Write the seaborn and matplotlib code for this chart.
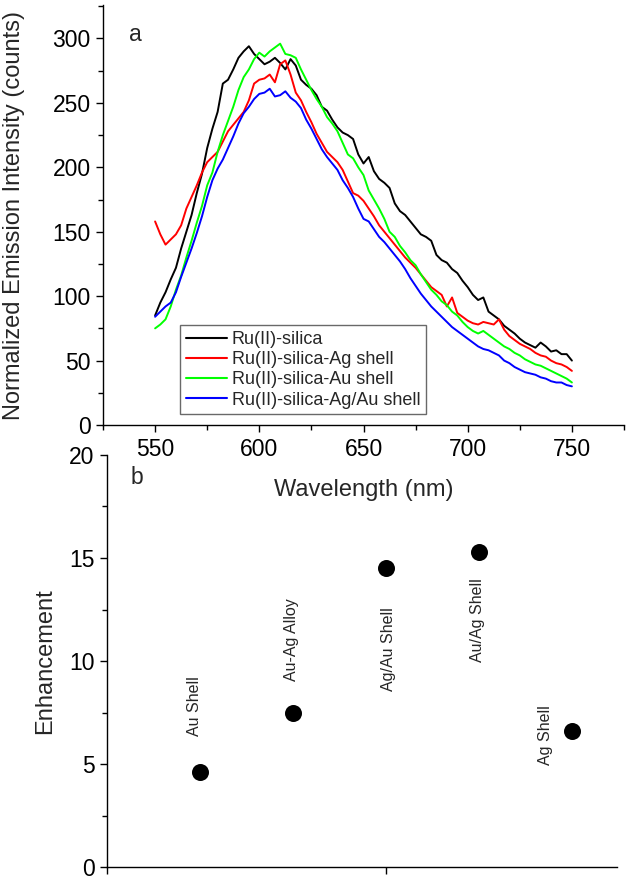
import numpy as np
import pandas as pd
import matplotlib
matplotlib.use("Agg")
import matplotlib.pyplot as plt
from matplotlib.ticker import MultipleLocator, NullFormatter
import seaborn as sns

# ── Data ─────────────────────────────────────────────────────────────────────
wavelength = np.arange(550, 750.1, 2.5)

silica = [85, 95, 103, 113, 122, 137, 150, 163, 180, 195, 215, 230, 243, 265, 268,
          276, 285, 290, 294, 288, 284, 280, 282, 285, 281, 276, 284, 279, 268, 264,
          261, 256, 247, 244, 237, 231, 227, 225, 222, 210, 203, 208, 197, 191, 188,
          184, 172, 166, 163, 158, 153, 148, 146, 143, 132, 128, 126, 121, 118, 112,
          107, 101, 97, 99, 88, 85, 82, 77, 74, 71, 67, 64, 62, 60, 64,
          61, 57, 58, 55, 55, 50]
ag_shell = [158, 148, 140, 144, 148, 155, 168, 177, 186, 196, 204, 208, 212, 220, 228,
            233, 238, 243, 252, 265, 268, 269, 272, 266, 280, 283, 272, 258, 252, 243,
            235, 226, 219, 212, 208, 204, 198, 189, 180, 178, 174, 168, 162, 155, 150,
            145, 140, 135, 130, 126, 122, 117, 112, 107, 104, 101, 92, 99, 87, 84,
            81, 79, 78, 80, 79, 78, 82, 74, 69, 66, 63, 61, 59, 56, 54,
            53, 50, 48, 47, 45, 42]
au_shell = [75, 78, 82, 92, 105, 116, 130, 143, 157, 170, 186, 196, 212, 225, 236,
            247, 260, 270, 276, 284, 289, 286, 290, 293, 296, 288, 287, 285, 276, 268,
            260, 253, 247, 239, 234, 228, 219, 210, 207, 200, 194, 182, 175, 168, 160,
            150, 146, 139, 134, 128, 124, 117, 111, 105, 101, 96, 93, 88, 85, 80,
            76, 73, 71, 73, 70, 67, 64, 61, 59, 56, 54, 51, 49, 47, 46,
            44, 42, 40, 38, 36, 33]
agau_shell = [84, 88, 92, 95, 103, 115, 126, 137, 149, 162, 177, 190, 199, 206, 215,
              224, 234, 242, 247, 253, 257, 258, 261, 255, 256, 259, 254, 251, 246, 237,
              230, 222, 214, 208, 203, 198, 190, 184, 177, 168, 160, 158, 152, 146, 142,
              137, 132, 127, 121, 114, 108, 102, 97, 92, 88, 84, 80, 76, 73, 70,
              67, 64, 61, 59, 58, 56, 54, 50, 48, 45, 43, 41, 40, 39, 37,
              36, 34, 33, 33, 31, 30]

series_names = ["Ru(II)-silica", "Ru(II)-silica-Ag shell",
                "Ru(II)-silica-Au shell", "Ru(II)-silica-Ag/Au shell"]
series_colors = ["#000000", "#ff0000", "#00ff00", "#0000ff"]

samples = ["Au Shell", "Au-Ag Alloy", "Ag/Au Shell", "Au/Ag Shell", "Ag Shell"]
enhancement = [4.6, 7.5, 14.5, 15.3, 6.6]

spectra = pd.concat([
    pd.DataFrame({"wavelength": wavelength, "intensity": vals, "sample": name})
    for name, vals in zip(series_names, [silica, ag_shell, au_shell, agau_shell])
])
points = pd.DataFrame({"pos": np.arange(1, len(samples) + 1),
                       "enhancement": enhancement, "sample": samples})

# ── Style ────────────────────────────────────────────────────────────────────
sns.set_style("ticks")
plt.rcParams["font.family"] = ["Liberation Sans", "DejaVu Sans"]
plt.rcParams.update({
    "axes.linewidth": 1.0,
    "xtick.major.width": 1.0, "ytick.major.width": 1.0,
    "xtick.minor.width": 1.0, "ytick.minor.width": 1.0,
    "xtick.major.size": 5, "ytick.major.size": 5,
    "xtick.minor.size": 3.5, "ytick.minor.size": 3.5,
    "xtick.direction": "out", "ytick.direction": "out",
    "xtick.color": "black", "ytick.color": "black",
    "axes.edgecolor": "black",
})

W, H = 629, 886
fig = plt.figure(figsize=(W / 100, H / 100), dpi=100)

# ── Panel a: emission spectra ────────────────────────────────────────────────
ax1 = fig.add_axes([103 / W, (H - 425) / H, 521 / W, 420 / H])
sns.lineplot(data=spectra, x="wavelength", y="intensity", hue="sample",
             hue_order=series_names, palette=dict(zip(series_names, series_colors)),
             estimator=None, sort=False, lw=1.4, ax=ax1)
ax1.set_xlim(525, 775)
ax1.set_ylim(0, 326)
ax1.xaxis.set_major_locator(MultipleLocator(50))
ax1.xaxis.set_minor_locator(MultipleLocator(25))
ax1.yaxis.set_major_locator(MultipleLocator(50))
ax1.yaxis.set_minor_locator(MultipleLocator(25))
ax1.set_xticks([550, 600, 650, 700, 750])
ax1.tick_params(labelsize=16.5, pad=4)
ax1.set_xlabel("Wavelength (nm)", fontsize=17)
ax1.xaxis.set_label_coords(0.5, -0.128)
ax1.set_ylabel("Normalized Emission Intensity (counts)", fontsize=17)
ax1.yaxis.set_label_coords(-0.15, 0.5)
ax1.text(0.063, 0.93, "a", transform=ax1.transAxes, fontsize=16.5,
         ha="center", va="center")
sns.despine(ax=ax1)

handles, labels = ax1.get_legend_handles_labels()
leg = ax1.legend(handles, labels, loc="lower left", bbox_to_anchor=(0.148, 0.026),
                 borderaxespad=0, fontsize=13, frameon=True, fancybox=False,
                 edgecolor="#444444", handlelength=2.3, handletextpad=0.25,
                 borderpad=0.3, labelspacing=0.18)
leg.get_frame().set_linewidth(1.0)
for line in leg.get_lines():
    line.set_linewidth(1.5)

# ── Panel b: enhancement factors ─────────────────────────────────────────────
ax2 = fig.add_axes([107 / W, (H - 867) / H, 510 / W, 412 / H])
ax2.patch.set_visible(False)
sns.scatterplot(data=points, x="pos", y="enhancement", color="black", s=150,
                edgecolor="black", linewidth=0, ax=ax2, zorder=3)
ax2.set_xlim(0, 5.48)
ax2.set_ylim(0, 20)
ax2.set_xticks([0, 3])
ax2.xaxis.set_major_formatter(NullFormatter())
ax2.yaxis.set_major_locator(MultipleLocator(5))
ax2.yaxis.set_minor_locator(MultipleLocator(2.5))
ax2.tick_params(labelsize=16.5, pad=4)
ax2.set_xlabel("")
ax2.set_ylabel("Enhancement", fontsize=17)
ax2.yaxis.set_label_coords(-0.1, 0.5)
ax2.text(0.058, 0.945, "b", transform=ax2.transAxes, fontsize=16.5,
         ha="center", va="center")

label_xy = [(0.935, 7.8), (1.98, 11.04), (3.02, 10.58), (3.98, 11.99), (4.715, 6.41)]
for name, (lx, ly) in zip(samples, label_xy):
    ax2.text(lx, ly, name, rotation=90, fontsize=11.5, ha="center", va="center")
sns.despine(ax=ax2)

fig.savefig("out.png", dpi=100)
